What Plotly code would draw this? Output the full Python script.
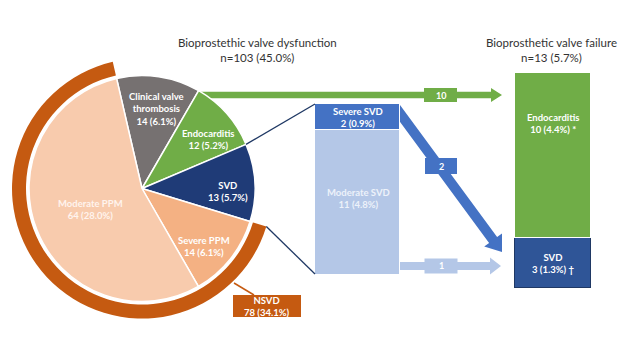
import math
import plotly.graph_objects as go

W, H = 640, 360

# ---------------- data ----------------
pie_labels = ["Clinical valve thrombosis", "Endocarditis", "SVD", "Severe PPM", "Moderate PPM"]
pie_values = [14, 12, 13, 14, 64]
pie_pcts = ["6.1%", "5.2%", "5.7%", "6.1%", "28.0%"]

nsvd_label = "NSVD"
nsvd_value = 78
nsvd_pct = "34.1%"

svd_grade_labels = ["Moderate SVD", "Severe SVD"]
svd_grade_values = [11, 2]
svd_grade_pcts = ["4.8%", "0.9%"]

failure_labels = ["SVD", "Endocarditis"]
failure_values = [3, 10]
failure_pcts = ["1.3%", "4.4%"]
failure_marks = ["†", "*"]

flow_labels = ["Endocarditis", "Severe SVD", "Moderate SVD"]
flow_values = [10, 2, 1]

dysf_title = "Bioprostethic valve dysfunction"
dysf_n = "n=103 (45.0%)"
fail_title = "Bioprosthetic valve failure"
fail_n = "n=13 (5.7%)"

# ---------------- styles ----------------
GRAY = "#767171"
GREEN = "#70AD47"
NAVY = "#1F3B77"
PEACH = "#F4B183"
PEACH_LIGHT = "#F8CBAD"
ORANGE = "#C55A11"
BLUE = "#4472C4"
LIGHTBLUE = "#B4C7E7"
SVD_BOX = "#2F5597"
DARKLINE = "#1F3864"
FONT = "Lato"

pie_colors = [GRAY, GREEN, NAVY, PEACH, PEACH_LIGHT]

CX, CY, R = 142, 188.5, 113
RR_OUT, RR_IN = 130, 116
ROT = -13


def dom(cx, cy, r):
    return dict(x=[(cx - r) / W, (cx + r) / W], y=[1 - (cy + r) / H, 1 - (cy - r) / H])


fig = go.Figure()

# outer NSVD ring
tot = sum(pie_values)
fig.add_trace(go.Pie(
    values=[tot - nsvd_value, nsvd_value], labels=["other", nsvd_label],
    sort=False, direction="clockwise", rotation=ROT,
    marker=dict(colors=["rgba(0,0,0,0)", ORANGE], line=dict(width=0)),
    hole=RR_IN / RR_OUT, textinfo="none", hoverinfo="skip",
    domain=dom(CX, CY, RR_OUT), showlegend=False,
))
# main pie
fig.add_trace(go.Pie(
    values=pie_values, labels=pie_labels, sort=False, direction="clockwise",
    rotation=ROT, marker=dict(colors=pie_colors, line=dict(color="white", width=1.5)),
    textinfo="none", domain=dom(CX, CY, R), showlegend=False,
))

# stacked SVD grade bar (middle)
for lab, val, col in zip(svd_grade_labels, svd_grade_values, [LIGHTBLUE, BLUE]):
    fig.add_trace(go.Bar(x=[357.5], y=[val], width=85, xaxis="x", yaxis="y2",
                         marker=dict(color=col, line=dict(color="white", width=1.5)),
                         showlegend=False, name=lab))
# stacked failure bar (right)
for lab, val, col, lc in zip(failure_labels, failure_values, [SVD_BOX, GREEN], [DARKLINE, "white"]):
    fig.add_trace(go.Bar(x=[553], y=[val], width=76, xaxis="x", yaxis="y3",
                         marker=dict(color=col, line=dict(color=lc, width=1.5)),
                         showlegend=False, name=lab))


def pt(r, ang):
    a = math.radians(ang)
    return CX + r * math.sin(a), CY - r * math.cos(a)


# slice boundary angles
bounds = [ROT]
for v in pie_values:
    bounds.append(bounds[-1] + 360 * v / tot)
svd_start, svd_end = bounds[2], bounds[3]

shapes = []
# connectors
x0, y0 = pt(R, svd_start)
shapes.append(dict(type="line", xref="x", yref="y", x0=x0, y0=y0, x1=315, y1=104,
                   line=dict(color=DARKLINE, width=1.3)))
x0, y0 = pt(RR_OUT, svd_end)
shapes.append(dict(type="line", xref="x", yref="y", x0=x0, y0=y0, x1=315, y1=274,
                   line=dict(color=DARKLINE, width=1.3)))
# NSVD leader + box
shapes.append(dict(type="line", xref="x", yref="y", x0=234, y0=283, x1=254, y1=295,
                   line=dict(color=ORANGE, width=1.5)))
shapes.append(dict(type="rect", xref="x", yref="y", x0=233, x1=301, y0=295, y1=317,
                   fillcolor=ORANGE, line=dict(width=0)))


def harrow(xs, xb, xt, yc, sh, hh, bx, bw, bh, color):
    d = (f"M{xs},{yc - sh} L{xb},{yc - sh} L{xb},{yc - hh} L{xt},{yc} "
         f"L{xb},{yc + hh} L{xb},{yc + sh} L{xs},{yc + sh} Z")
    shapes.append(dict(type="path", xref="x", yref="y", path=d, fillcolor=color,
                       line=dict(width=0), layer="below"))
    shapes.append(dict(type="rect", xref="x", yref="y", x0=bx - bw / 2, x1=bx + bw / 2,
                       y0=yc - bh / 2, y1=yc + bh / 2, fillcolor=color, line=dict(width=0),
                       layer="below"))


harrow(200, 491, 502, 95, 3.3, 7, 440.5, 33, 14, GREEN)
harrow(398, 490, 501, 266, 4, 8.5, 441, 33, 15, LIGHTBLUE)

# diagonal arrow
S = (396, 108)
T = (502, 252)
dx, dy = T[0] - S[0], T[1] - S[1]
L = math.hypot(dx, dy)
ux, uy = dx / L, dy / L
nx, ny = -uy, ux
hw, HL, HH = 5, 15, 11
B = (T[0] - HL * ux, T[1] - HL * uy)
pts = [(S[0] + hw * nx, S[1] + hw * ny), (B[0] + hw * nx, B[1] + hw * ny),
       (B[0] + HH * nx, B[1] + HH * ny), T,
       (B[0] - HH * nx, B[1] - HH * ny), (B[0] - hw * nx, B[1] - hw * ny),
       (S[0] - hw * nx, S[1] - hw * ny)]
d = "M" + " L".join(f"{px:.1f},{py:.1f}" for px, py in pts) + " Z"
shapes.append(dict(type="path", xref="x", yref="y", path=d, fillcolor=BLUE,
                   line=dict(width=0), layer="below"))
shapes.append(dict(type="rect", xref="x", yref="y", x0=425, x1=457, y0=158, y1=174,
                   fillcolor=BLUE, line=dict(width=0), layer="below"))

ann = []


def txt(x, y, s, size=9.5, color="white", bold=True, xref="x", yref="y", yshift=0):
    ann.append(dict(x=x, y=y, xref=xref, yref=yref, text=(f"<b>{s}</b>" if bold else s),
                    showarrow=False, font=dict(family=FONT, size=size, color=color),
                    align="center", xanchor="center", yanchor="middle", yshift=yshift))


# titles
txt(257, 50, f"{dysf_title}<br>{dysf_n}", size=11.5, color="#333333", bold=False)
txt(551, 50, f"{fail_title}<br>{fail_n}", size=11.5, color="#333333", bold=False)

# pie labels
pie_label_pos = [(156, 109), (208, 139), (228, 191), (204, 246), (90, 209)]
for lab, v, p, (lx, ly) in zip(pie_labels, pie_values, pie_pcts, pie_label_pos):
    name = lab.replace("valve ", "valve<br>")
    col = "#FFF4EE" if lab == "Moderate PPM" else "white"
    txt(lx, ly, f"{name}<br>{v} ({p})", color=col)

txt(267, 306, f"{nsvd_label}<br>{nsvd_value} ({nsvd_pct})", size=9.5)

# middle bar labels
txt(358, svd_grade_values[0] / 2, f"{svd_grade_labels[0]}<br>{svd_grade_values[0]} ({svd_grade_pcts[0]})",
    color="#EDF2FA", yref="y2", yshift=4)
txt(358, svd_grade_values[0] + svd_grade_values[1] / 2,
    f"{svd_grade_labels[1]}<br>{svd_grade_values[1]} ({svd_grade_pcts[1]})", yref="y2")

# right bar labels
txt(553, failure_values[0] / 2,
    f"{failure_labels[0]}<br>{failure_values[0]} ({failure_pcts[0]}) {failure_marks[0]}", yref="y3")
txt(553, sum(failure_values),
    f"{failure_labels[1]}<br>{failure_values[1]} ({failure_pcts[1]}) {failure_marks[1]}", yref="y3",
    yshift=-51)

# flow labels
for v, (fx, fy) in zip(flow_values, [(440.5, 95), (441, 166), (441, 265.5)]):
    txt(fx, fy, str(v), size=9)

ax_common = dict(visible=False, showgrid=False, zeroline=False, fixedrange=True)
fig.update_layout(
    width=W, height=H, autosize=False,
    margin=dict(l=0, r=0, t=0, b=0),
    paper_bgcolor="white", plot_bgcolor="rgba(0,0,0,0)",
    barmode="stack", bargap=0,
    xaxis=dict(range=[0, W], domain=[0, 1], anchor="y", **ax_common),
    yaxis=dict(range=[H, 0], domain=[0, 1], anchor="x", **ax_common),
    yaxis2=dict(range=[0, sum(svd_grade_values)], domain=[1 - 275 / H, 1 - 104 / H], anchor="x", **ax_common),
    yaxis3=dict(range=[0, sum(failure_values)], domain=[1 - 288 / H, 1 - 73 / H], anchor="x", **ax_common),
    shapes=shapes, annotations=ann, showlegend=False,
)

fig.write_html("out.html", config={"displayModeBar": False},
               post_script="document.body.style.margin='0';document.body.style.overflow='hidden';")
